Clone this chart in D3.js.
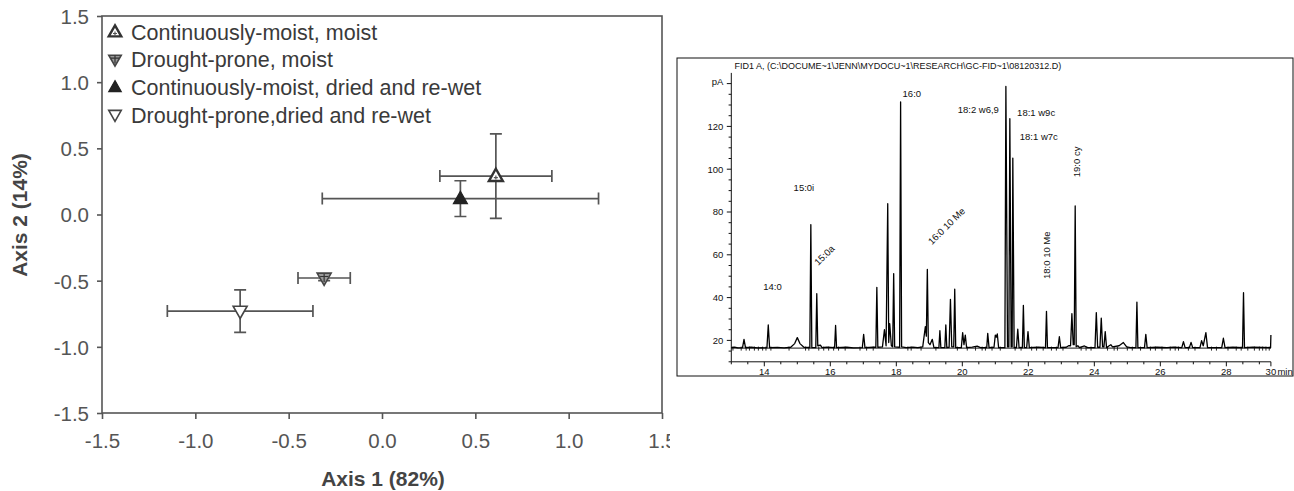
<!DOCTYPE html>
<html><head><meta charset="utf-8">
<script src="https://cdn.jsdelivr.net/npm/d3@7"></script>
<style>body{margin:0;background:#fff}svg{display:block}text{font-family:Arial,"Liberation Sans",sans-serif}</style>
</head><body>
<svg id="c" width="1294" height="491"></svg>
<script>
// ---------- Left panel data (ordination) ----------
const groups = ["Continuously-moist, moist","Drought-prone, moist","Continuously-moist, dried and re-wet","Drought-prone,dried and re-wet"];
const markerKind = ["upOpen","downHatch","upFilled","downOpen"];
const axis1 = [0.61, -0.31, 0.42, -0.76];
const axis2 = [0.29, -0.48, 0.12, -0.73];
const err1 = [0.30, 0.14, 0.74, 0.39];
const err2 = [0.32, 0.02, 0.135, 0.16];
const leftTicks = [-1.5,-1.0,-0.5,0.0,0.5,1.0,1.5];

// ---------- Right panel data (chromatogram) ----------
const chromTitle = "FID1 A,  (C:\\DOCUME~1\\JENN\\MYDOCU~1\\RESEARCH\\GC-FID~1\\08120312.D)";
const timeTicks = [14,16,18,20,22,24,26,28];
const timeMinor = [13,13.5,14,14.5,15,15.5,16,16.5,17,17.5,18,18.5,19,19.5,20,20.5,21,21.5,22,22.5,23,23.5,24,24.5,25,25.5,26,26.5,27,27.5,28,28.5,29];
const pATicks = [20,40,60,80,100,120];
const pAMinor = [10,15,25,30,35,45,50,55,65,70,75,85,90,95,105,110,115,125,130,135];
// signal trace: [time (min), response (pA)]
const signal = [
[13.00,16.6],[13.10,16.9],[13.20,16.5],[13.34,16.6],[13.385,20.5],[13.43,16.6],[13.6,16.8],[13.8,16.5],
[14.08,16.6],[14.12,27.2],[14.16,16.6],[14.4,16.7],[14.6,16.5],
[14.80,16.8],[14.92,18.5],[15.0,21.3],[15.08,18.5],[15.2,16.8],
[15.38,16.6],[15.41,74.1],[15.44,16.6],
[15.56,16.6],[15.59,41.8],[15.62,17.5],[15.7,17.8],[15.75,16.6],[15.9,16.9],
[16.13,16.6],[16.16,27.0],[16.19,16.6],[16.5,16.8],[16.7,16.5],
[16.97,16.6],[17.01,22.8],[17.05,16.6],
[17.30,16.8],[17.38,16.8],[17.41,44.8],[17.44,16.8],
[17.58,17.0],[17.64,25.0],[17.69,17.5],[17.74,83.9],[17.77,19.0],[17.80,27.8],[17.85,17.5],[17.89,17.0],[17.92,51.2],[17.95,17.0],
[18.10,16.8],[18.13,131.4],[18.16,17.0],[18.3,16.6],[18.5,16.9],[18.65,16.6],
[18.80,17.0],[18.88,26.4],[18.91,22.0],[18.94,53.2],[18.97,19.0],[19.02,18.0],[19.09,20.5],[19.14,16.6],
[19.29,16.6],[19.32,24.5],[19.35,16.6],
[19.47,16.6],[19.50,27.2],[19.53,16.6],
[19.60,16.8],[19.64,39.2],[19.68,17.0],[19.74,17.0],[19.77,43.9],[19.80,16.6],
[19.97,16.6],[20.01,23.6],[20.05,18.0],[20.09,22.5],[20.13,16.6],[20.3,16.9],[20.45,17.3],[20.55,16.6],
[20.74,16.6],[20.77,23.3],[20.81,16.6],
[20.96,16.8],[21.00,22.5],[21.03,21.5],[21.06,23.0],[21.10,16.6],
[21.29,16.6],[21.32,138.7],[21.37,17.0],[21.41,17.0],[21.44,123.6],[21.48,17.0],[21.51,17.0],[21.53,105.2],[21.57,16.6],
[21.64,16.6],[21.68,25.2],[21.72,16.6],
[21.82,16.6],[21.85,36.4],[21.88,16.6],
[21.95,16.6],[21.99,24.1],[22.03,16.6],[22.3,16.9],
[22.52,16.6],[22.55,33.6],[22.58,16.6],
[22.90,16.6],[22.94,21.7],[22.98,16.6],
[23.15,16.8],[23.22,17.5],[23.28,17.5],[23.32,32.5],[23.36,18.0],[23.39,18.0],[23.42,82.8],[23.45,17.0],[23.5,17.5],[23.55,16.6],[23.7,17.4],[23.8,16.6],
[24.02,16.6],[24.06,33.0],[24.10,16.8],[24.17,16.8],[24.21,30.4],[24.25,17.0],[24.29,17.0],[24.33,24.1],[24.37,16.6],
[24.45,17.5],[24.5,18.0],[24.55,17.0],[24.75,17.5],[24.88,19.0],[24.98,17.0],[25.1,16.6],
[25.26,16.6],[25.29,37.9],[25.32,16.6],
[25.52,16.6],[25.56,22.8],[25.60,16.6],[25.9,16.8],[26.2,16.6],[26.4,16.9],
[26.65,16.6],[26.70,19.4],[26.75,16.6],
[26.88,16.6],[26.93,19.1],[26.98,16.6],
[27.20,16.6],[27.25,19.9],[27.30,17.5],[27.38,23.6],[27.43,16.6],
[27.86,16.6],[27.91,21.0],[27.96,16.6],[28.2,16.8],
[28.49,16.6],[28.52,42.3],[28.55,16.6],[28.8,16.9],[29.1,16.7],
[29.34,16.6],[29.35,22.5]
];
const baselineLevel = 16.4;
const baselineMarks = [13.05,13.3,13.45,13.55,13.7,13.82,13.95,14.05,14.2,14.75,15.25,15.35,15.65,15.8,15.95,16.1,16.25,16.45,16.9,17.1,17.3,18.35,18.45,18.75,19.2,19.85,20.15,20.4,20.6,20.7,20.9,21.15,21.6,21.78,22.1,22.25,22.45,22.7,22.85,23.05,23.6,23.75,23.9,24.4,24.6,24.7,25.0,25.15,25.4,25.7,25.85,26.05,26.3,26.45,26.55,26.85,27.05,27.55,27.7,28.05,28.3,28.45,28.65,28.85,29.0,29.1,29.2,29.3];
// peak annotations: [label, time-anchor x, pA-anchor y, rotation, anchor]
const peakLabels = [
 ["14:0", 14.25, 45.2, 0, "middle"],
 ["15:0i", 15.2, 91.6, 0, "middle"],
 ["15:0a", 15.82, 59.8, -45, "middle"],
 ["16:0", 18.47, 135.4, 0, "middle"],
 ["16:0 10 Me", 19.52, 73.4, -45, "middle"],
 ["18:2 w6,9", 19.86, 127.8, 0, "start"],
 ["18:1 w9c", 21.66, 126.3, 0, "start"],
 ["18:1 w7c", 21.74, 115.4, 0, "start"],
 ["18:0 10 Me", 22.55, 59.8, -90, "middle"],
 ["19:0 cy", 23.47, 103.4, -90, "middle"]
];

const svg = d3.select("#c");
svg.append("rect").attr("width",1294).attr("height",491).attr("fill","#fff");

// ================= LEFT PANEL =================
const defs = svg.append("defs");
defs.append("clipPath").attr("id","leftClip").append("rect").attr("x",0).attr("y",0).attr("width",670).attr("height",491);
const L = svg.append("g").attr("clip-path","url(#leftClip)");
const x1 = d3.scaleLinear().domain([-1.5,1.5]).range([102,662]);
const y1 = d3.scaleLinear().domain([-1.5,1.5]).range([413,16]);
const axCol = "#555", txtCol = "#555";

L.append("rect").attr("x",x1(-1.5)).attr("y",y1(1.5)).attr("width",x1(1.5)-x1(-1.5)).attr("height",y1(-1.5)-y1(1.5))
 .attr("fill","none").attr("stroke",axCol).attr("stroke-width",1.6);

const xAx = L.append("g").attr("transform",`translate(0,${y1(-1.5)})`)
 .call(d3.axisBottom(x1).tickValues(leftTicks).tickFormat(d3.format(".1f")).tickSize(6).tickPadding(14));
const yAx = L.append("g").attr("transform",`translate(${x1(-1.5)},0)`)
 .call(d3.axisLeft(y1).tickValues(leftTicks).tickFormat(d3.format(".1f")).tickSize(5).tickPadding(8));
[xAx,yAx].forEach(a=>{
  a.select(".domain").remove();
  a.selectAll("line").attr("stroke",axCol).attr("stroke-width",1.6);
  a.selectAll("text").attr("fill",txtCol).style("font-size","20.5px").style("font-family","Arial, 'Liberation Sans', sans-serif");
});
yAx.selectAll("text").attr("dy","0.36em");
xAx.selectAll("text").text(d=>d3.format(".1f")(d).replace("−","-"));
yAx.selectAll("text").text(d=>d3.format(".1f")(d).replace("−","-"));

L.append("text").attr("x",383).attr("y",486).attr("text-anchor","middle")
 .style("font-size","21px").style("font-weight","bold").attr("fill","#444").text("Axis 1 (82%)");
L.append("text").attr("transform","translate(27,215) rotate(-90)").attr("text-anchor","middle")
 .style("font-size","21px").style("font-weight","bold").attr("fill","#444").text("Axis 2 (14%)");

function drawMarker(g, kind, cx, cy, s){
  const w = s, h = s*0.88;
  let pts;
  if(kind.startsWith("up")) pts = [[cx,cy-h*0.6],[cx+w/2,cy+h*0.4],[cx-w/2,cy+h*0.4]];
  else pts = [[cx,cy+h*0.6],[cx+w/2,cy-h*0.4],[cx-w/2,cy-h*0.4]];
  const p = g.append("path").attr("d","M"+pts.map(p=>p.join(",")).join("L")+"Z");
  if(kind==="upOpen"){
    p.attr("fill","#fff").attr("stroke","#333").attr("stroke-width",2.4);
    g.append("path").attr("d",`M${cx-2},${cy+1.5}H${cx+2}M${cx},${cy-0.5}V${cy+3.5}`).attr("stroke","#555").attr("stroke-width",1.2);
  } else if(kind==="upFilled"){
    p.attr("fill","#222").attr("stroke","#222").attr("stroke-width",1.2);
  } else if(kind==="downOpen"){
    p.attr("fill","#fff").attr("stroke","#444").attr("stroke-width",1.6);
  } else {
    p.attr("fill","#999").attr("stroke","#444").attr("stroke-width",1.6);
    g.append("path").attr("d",`M${cx-4},${cy-1.5}H${cx+4}M${cx},${cy-4}V${cy+4}`).attr("stroke","#333").attr("stroke-width",1.2);
  }
}

// error bars
const cap = 6;
const EB = L.append("g").attr("stroke","#555").attr("stroke-width",1.7).attr("fill","none");
groups.forEach((g,i)=>{
  const cx=x1(axis1[i]), cy=y1(axis2[i]);
  const xl=x1(axis1[i]-err1[i]), xr=x1(axis1[i]+err1[i]);
  const yt=y1(axis2[i]+err2[i]), yb=y1(axis2[i]-err2[i]);
  EB.append("path").attr("d",`M${xl},${cy}H${xr}M${xl},${cy-cap}V${cy+cap}M${xr},${cy-cap}V${cy+cap}`);
  EB.append("path").attr("d",`M${cx},${yt}V${yb}M${cx-cap},${yt}H${cx+cap}M${cx-cap},${yb}H${cx+cap}`);
});
const MK = L.append("g");
groups.forEach((g,i)=> drawMarker(MK, markerKind[i], x1(axis1[i]), y1(axis2[i]), 14));

// legend
const leg = L.append("g");
groups.forEach((g,i)=>{
  const yy = 32 + i*27.6;
  drawMarker(leg, markerKind[i], 115, yy, 12.5);
  leg.append("text").attr("x",131).attr("y",yy).attr("dy","0.36em").attr("fill","#3a3a3a")
   .style("font-size","21.5px").text(g);
});

// ================= RIGHT PANEL =================
const R = svg.append("g");
R.append("rect").attr("x",677).attr("y",58).attr("width",616).attr("height",318).attr("fill","#fff").attr("stroke","#111").attr("stroke-width",1);
const xt = d3.scaleLinear().domain([13,29.35]).range([731.3,1270.9]);
const yp = d3.scaleLinear().domain([10,145]).range([361.8,72.9]);
const fs = "9.5px";

R.append("text").attr("x",734.5).attr("y",65.5).attr("dy","0.35em").style("font-size","9px").attr("fill","#111").text(chromTitle);

// axes lines
R.append("line").attr("x1",xt(13)).attr("x2",xt(29.35)).attr("y1",yp(10)).attr("y2",yp(10)).attr("stroke","#111").attr("stroke-width",1);
R.append("line").attr("x1",xt(13)).attr("x2",xt(13)).attr("y1",yp(10)).attr("y2",yp(145)).attr("stroke","#111").attr("stroke-width",1);
// x ticks
R.selectAll(".xm").data(timeMinor).join("line").attr("x1",d=>xt(d)).attr("x2",d=>xt(d))
 .attr("y1",yp(10)).attr("y2",d=>yp(10)+(timeTicks.includes(d)?4.5:2.5)).attr("stroke","#111").attr("stroke-width",1);
R.append("line").attr("x1",xt(29.35)).attr("x2",xt(29.35)).attr("y1",yp(10)).attr("y2",yp(10)+4.5).attr("stroke","#111");
R.selectAll(".xl").data(timeTicks).join("text").attr("x",d=>xt(d)).attr("y",372).attr("dy","0.35em")
 .attr("text-anchor","middle").style("font-size",fs).attr("fill","#111").text(d=>d);
R.append("text").attr("x",xt(29.35)).attr("y",372).attr("dy","0.35em").attr("text-anchor","middle").style("font-size",fs).attr("fill","#111").text("30");
R.append("text").attr("x",xt(29.35)+6.5).attr("y",372).attr("dy","0.35em").attr("text-anchor","start").style("font-size",fs).attr("fill","#111").text("min");
// y ticks
R.selectAll(".ym").data(pAMinor).join("line").attr("x1",xt(13)-2.7).attr("x2",xt(13)).attr("y1",d=>yp(d)).attr("y2",d=>yp(d)).attr("stroke","#111");
R.selectAll(".yM").data(pATicks.concat([140])).join("line").attr("x1",xt(13)-4.5).attr("x2",xt(13)).attr("y1",d=>yp(d)).attr("y2",d=>yp(d)).attr("stroke","#111");
R.selectAll(".yl").data(pATicks).join("text").attr("x",xt(13)-8).attr("y",d=>yp(d)).attr("dy","0.35em")
 .attr("text-anchor","end").style("font-size",fs).attr("fill","#111").text(d=>d);
R.append("text").attr("x",xt(13)-8).attr("y",yp(140)).attr("dy","0.1em").attr("text-anchor","end").style("font-size",fs).attr("fill","#111").text("pA");

// baseline + marks
R.append("line").attr("x1",xt(13)).attr("x2",xt(29.35)).attr("y1",yp(baselineLevel)).attr("y2",yp(baselineLevel)).attr("stroke","#111").attr("stroke-width",1);
R.selectAll(".bm").data(baselineMarks).join("line").attr("x1",d=>xt(d)).attr("x2",d=>xt(d))
 .attr("y1",yp(baselineLevel)-1.5).attr("y2",yp(baselineLevel)+2.5).attr("stroke","#111").attr("stroke-width",0.9);
// signal
R.append("path").datum(signal).attr("fill","none").attr("stroke","#000").attr("stroke-width",1.3).attr("stroke-linejoin","round")
 .attr("d",d3.line().x(d=>xt(d[0])).y(d=>yp(d[1])));

// peak labels
peakLabels.forEach(([t,tx,ty,rot,anc])=>{
  R.append("text").attr("transform",`translate(${xt(tx)},${yp(ty)}) rotate(${rot})`).attr("dy","0.35em")
   .attr("text-anchor",anc).style("font-size","9.5px").attr("fill","#111").text(t);
});
</script>
</body></html>
